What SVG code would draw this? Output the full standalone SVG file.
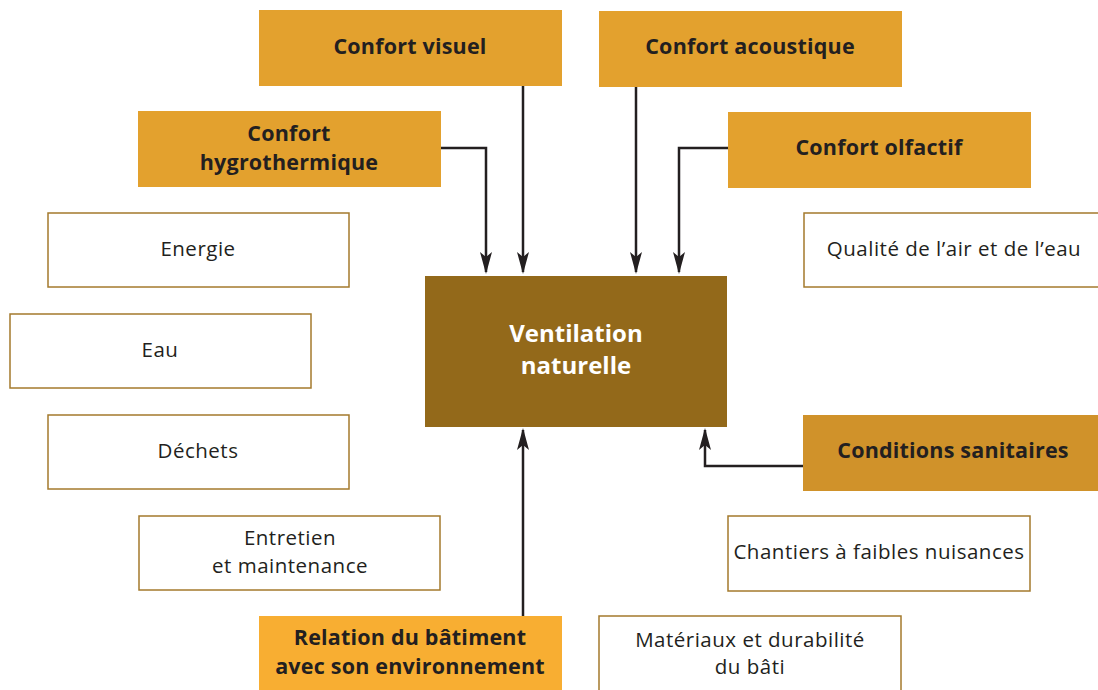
<svg xmlns="http://www.w3.org/2000/svg" width="1098" height="690" viewBox="0 0 1098 690">
<style>
.hd{fill:#e3a12e}
.wb{fill:#fff;stroke:#a47a2c;stroke-width:1.5}
.bt{font-family:"Open Sans","Noto Sans",sans-serif;font-weight:bold;font-size:21.5px;fill:#231f20;text-anchor:middle;letter-spacing:0.2px}
.rt{font-family:"Open Sans","Noto Sans",sans-serif;font-size:20.5px;fill:#231f20;text-anchor:middle;letter-spacing:0.5px}
.ct{font-family:"Open Sans","Noto Sans",sans-serif;font-weight:bold;font-size:24px;fill:#fff;text-anchor:middle}
.ln{fill:none;stroke:#231f20;stroke-width:2.5}
</style>
<defs>
<marker id="ah" markerWidth="22" markerHeight="12" refX="20" refY="6" orient="auto" markerUnits="userSpaceOnUse" viewBox="0 0 22 12">
<path d="M0,0 L22,6 L0,12 L5,6 Z" fill="#231f20"/>
</marker>
</defs>
<rect width="1098" height="690" fill="#fff"/>
<g id="connectors">
<path class="ln" d="M441,148 H486 V272" marker-end="url(#ah)"/>
<path class="ln" d="M523,86 V272" marker-end="url(#ah)"/>
<path class="ln" d="M636,87 V272" marker-end="url(#ah)"/>
<path class="ln" d="M728,148 H679 V272" marker-end="url(#ah)"/>
<path class="ln" d="M803,466 H705 V430" marker-end="url(#ah)"/>
<path class="ln" d="M523,616 V430" marker-end="url(#ah)"/>
</g>
<g id="confort-visuel"><rect class="hd" x="259" y="10" width="303" height="76"/><text class="bt" x="410" y="54">Confort visuel</text></g>
<g id="confort-acoustique"><rect class="hd" x="599" y="11" width="303" height="76"/><text class="bt" x="750" y="54">Confort acoustique</text></g>
<g id="confort-hygrothermique"><rect class="hd" x="138" y="111" width="303" height="76"/><text class="bt" x="289" y="141">Confort</text><text class="bt" x="289" y="170">hygrothermique</text></g>
<g id="confort-olfactif"><rect class="hd" x="728" y="112" width="303" height="76"/><text class="bt" x="879" y="155">Confort olfactif</text></g>
<g id="ventilation"><rect x="425" y="276" width="302" height="151" fill="#93691a"/><text class="ct" x="576" y="342">Ventilation</text><text class="ct" x="576" y="374">naturelle</text></g>
<g id="energie"><rect class="wb" x="48" y="213" width="301" height="74"/><text class="rt" x="198" y="256">Energie</text></g>
<g id="eau"><rect class="wb" x="10" y="314" width="301" height="74"/><text class="rt" x="160" y="357">Eau</text></g>
<g id="dechets"><rect class="wb" x="48" y="415" width="301" height="74"/><text class="rt" x="198" y="458">Déchets</text></g>
<g id="entretien"><rect class="wb" x="139" y="516" width="301" height="74"/><text class="rt" x="290" y="545">Entretien</text><text class="rt" x="290" y="573">et maintenance</text></g>
<g id="qualite"><rect class="wb" x="804" y="213" width="300" height="74"/><text class="rt" x="954" y="256">Qualité de l’air et de l’eau</text></g>
<g id="conditions-sanitaires"><rect x="803" y="415" width="300" height="76" fill="#d0922a"/><text class="bt" x="953" y="458">Conditions sanitaires</text></g>
<g id="chantiers"><rect class="wb" x="728" y="516" width="302" height="75"/><text class="rt" x="879" y="559">Chantiers à faibles nuisances</text></g>
<g id="relation"><rect x="259" y="616" width="303" height="80" fill="#f8ae32"/><text class="bt" x="410" y="645">Relation du bâtiment</text><text class="bt" x="410" y="674">avec son environnement</text></g>
<g id="materiaux"><rect class="wb" x="599" y="616" width="302" height="80"/><text class="rt" x="750" y="647">Matériaux et durabilité</text><text class="rt" x="750" y="674">du bâti</text></g>
</svg>
